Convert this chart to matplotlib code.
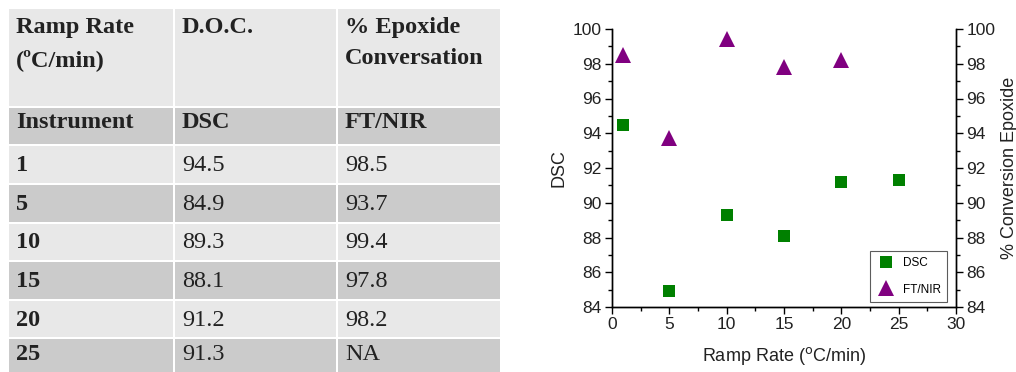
import matplotlib.pyplot as plt
from matplotlib.patches import Rectangle
from matplotlib.ticker import MultipleLocator

# table / chart data
ramp = [1, 5, 10, 15, 20, 25]
dsc = [94.5, 84.9, 89.3, 88.1, 91.2, 91.3]
ftnir = [98.5, 93.7, 99.4, 97.8, 98.2]
ftnir_text = ["98.5", "93.7", "99.4", "97.8", "98.2", "NA"]
header = ["Ramp Rate\n(\u00baC/min)", "D.O.C.", "% Epoxide\nConversation"]
instr_row = ["Instrument", "DSC", "FT/NIR"]

fig = plt.figure(figsize=(10.16, 3.72), dpi=100)

# Step1: table drawn in pixel coordinates
tab = fig.add_axes([0, 0, 1, 1])
tab.set_xlim(0, 1016)
tab.set_ylim(372, 0)
tab.axis('off')

col_x = [(9, 173), (175, 336), (338, 500)]
row_y = [(9, 106), (108, 144), (146, 183), (185, 222), (224, 260),
         (262, 299), (301, 337), (339, 380)]
light = '#e8e8e8'
dark = '#cbcbcb'
row_col = [light, dark, light, dark, light, dark, light, dark]
serif = 'Liberation Serif'
tcol = '#222222'
fs = 17.5

for r, (y0, y1) in enumerate(row_y):
    for (x0, x1) in col_x:
        tab.add_patch(Rectangle((x0, y0), x1 - x0, y1 - y0, color=row_col[r], lw=0))

for c, txt in enumerate(header):
    tab.text(col_x[c][0] + 7, 17, txt, fontsize=fs, fontweight='bold', family=serif,
             color=tcol, va='top', linespacing=1.65)
for c, txt in enumerate(instr_row):
    tab.text(col_x[c][0] + 7, 123, txt, fontsize=fs, fontweight='bold', family=serif,
             color=tcol, va='center')
for i in range(len(ramp)):
    yc = (row_y[i + 2][0] + row_y[i + 2][1]) / 2 + 1
    if i == len(ramp) - 1:
        yc = 355
    tab.text(col_x[0][0] + 7, yc, str(ramp[i]), fontsize=fs, fontweight='bold',
             family=serif, color=tcol, va='center')
    tab.text(col_x[1][0] + 7, yc, f"{dsc[i]:.1f}", fontsize=fs, family=serif,
             color=tcol, va='center')
    tab.text(col_x[2][0] + 7, yc, ftnir_text[i], fontsize=fs, family=serif,
             color=tcol, va='center')

# Step2: scatter chart with twin y axis
ax = fig.add_axes([612 / 1016, 1 - 307 / 372, 344 / 1016, 278 / 372])
ax2 = ax.twinx()
ax2.set_zorder(0)
ax.set_zorder(1)
ax.patch.set_visible(False)

sq = ax.plot(ramp, dsc, 's', color='#008000', ms=8.5, mew=0, label='DSC')[0]
tri = ax2.plot(ramp[:len(ftnir)], ftnir, '^', color='#800080', ms=11, mew=0, label='FT/NIR')[0]

for a in (ax, ax2):
    a.set_xlim(0, 30)
    a.set_ylim(84, 100)
    a.yaxis.set_major_locator(MultipleLocator(2))
    a.yaxis.set_minor_locator(MultipleLocator(1))
    a.xaxis.set_major_locator(MultipleLocator(5))
    a.xaxis.set_minor_locator(MultipleLocator(2.5))
    a.spines['top'].set_visible(False)
    a.tick_params(which='major', length=5, width=1, labelsize=12.5, direction='out',
                  pad=2.5, labelcolor='#222222')
    a.tick_params(which='minor', length=3, width=1, direction='out')
    for s in a.spines.values():
        s.set_linewidth(1)

sans = 'Liberation Sans'
for lab in ax.get_xticklabels() + ax.get_yticklabels() + ax2.get_yticklabels():
    lab.set_family(sans)

ax.set_xlabel('Ramp Rate ($^{\\mathrm{o}}$C/min)', fontsize=13, family=sans, labelpad=9,
              color='#222222')
ax.set_ylabel('DSC', fontsize=13, family=sans, labelpad=4, color='#222222')
ax2.set_ylabel('% Conversion Epoxide', fontsize=13, family=sans, labelpad=4, color='#222222')

leg = ax.legend(handles=[sq, tri], loc='lower right', fontsize=8.5, frameon=True,
                fancybox=False, edgecolor='#333333', borderpad=0.55, labelspacing=1.2,
                handlelength=1.6, handletextpad=0.6, borderaxespad=0,
                bbox_to_anchor=(0.975, 0.018))
leg.get_frame().set_linewidth(0.8)
for t in leg.get_texts():
    t.set_family(sans)

fig.savefig('out.png', dpi=100)
